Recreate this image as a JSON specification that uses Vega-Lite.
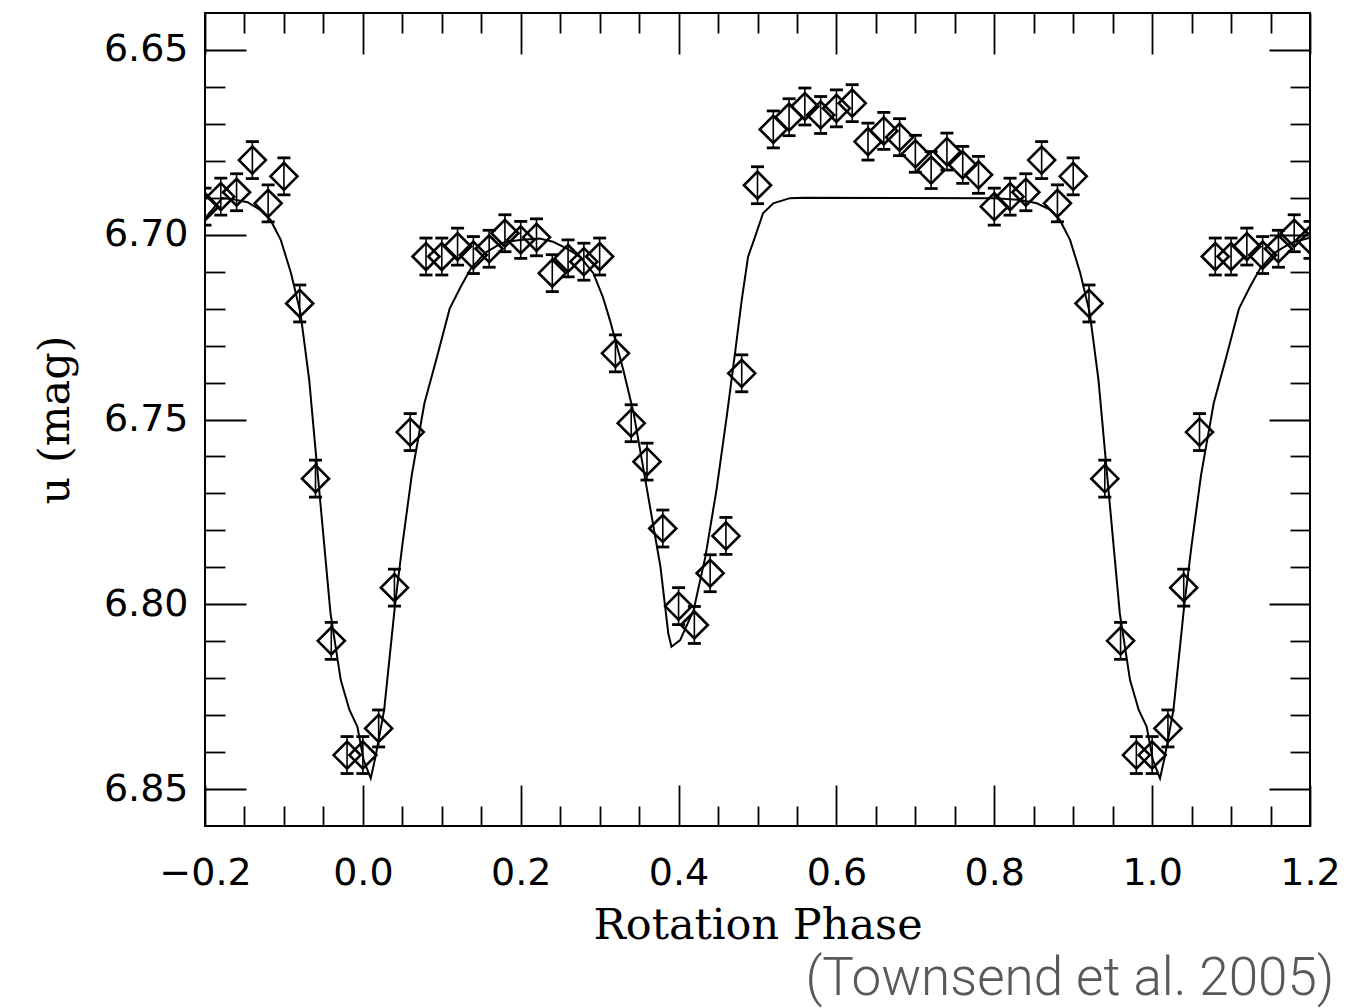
{
  "$schema": "https://vega.github.io/schema/vega-lite/v6.json",
  "width": 1105,
  "height": 813,
  "autosize": {"type": "none"},
  "padding": {"left": 205, "top": 13, "right": 57, "bottom": 182},
  "background": "white",
  "config": {
    "view": {"stroke": "black", "strokeWidth": 2},
    "axis": {
      "grid": false,
      "domain": false,
      "tickColor": "black",
      "tickWidth": 1.8,
      "labelColor": "black",
      "labelFont": "DejaVu Sans",
      "labelFontSize": 38,
      "labelFlush": false,
      "titleFont": "DejaVu Serif",
      "titleFontSize": 43,
      "titleFontWeight": "normal",
      "titleColor": "black"
    }
  },
  "title": {
    "text": "(Townsend et al. 2005)",
    "orient": "bottom",
    "anchor": "end",
    "font": "Roboto",
    "fontWeight": 300,
    "fontSize": 53,
    "color": "#595959",
    "offset": 6,
    "dx": -6
  },
  "datasets": {
    "obs": [
      {"phase": -0.20, "mag": 6.6924, "err": 0.005},
      {"phase": -0.18, "mag": 6.6897, "err": 0.005},
      {"phase": -0.16, "mag": 6.6885, "err": 0.005},
      {"phase": -0.14, "mag": 6.6798, "err": 0.005},
      {"phase": -0.12, "mag": 6.6915, "err": 0.005},
      {"phase": -0.10, "mag": 6.6842, "err": 0.005},
      {"phase": -0.08, "mag": 6.7186, "err": 0.005},
      {"phase": -0.06, "mag": 6.7660, "err": 0.005},
      {"phase": -0.04, "mag": 6.8099, "err": 0.005},
      {"phase": -0.02, "mag": 6.8408, "err": 0.005},
      {"phase": 0.00, "mag": 6.8408, "err": 0.005},
      {"phase": 0.02, "mag": 6.8336, "err": 0.005},
      {"phase": 0.04, "mag": 6.7955, "err": 0.005},
      {"phase": 0.06, "mag": 6.7534, "err": 0.005},
      {"phase": 0.08, "mag": 6.7059, "err": 0.005},
      {"phase": 0.10, "mag": 6.7059, "err": 0.005},
      {"phase": 0.12, "mag": 6.7032, "err": 0.005},
      {"phase": 0.14, "mag": 6.7055, "err": 0.005},
      {"phase": 0.16, "mag": 6.7038, "err": 0.005},
      {"phase": 0.18, "mag": 6.6996, "err": 0.005},
      {"phase": 0.20, "mag": 6.7014, "err": 0.005},
      {"phase": 0.22, "mag": 6.7007, "err": 0.005},
      {"phase": 0.24, "mag": 6.7104, "err": 0.005},
      {"phase": 0.26, "mag": 6.7064, "err": 0.005},
      {"phase": 0.28, "mag": 6.7073, "err": 0.005},
      {"phase": 0.30, "mag": 6.7059, "err": 0.005},
      {"phase": 0.32, "mag": 6.7321, "err": 0.005},
      {"phase": 0.34, "mag": 6.7510, "err": 0.005},
      {"phase": 0.36, "mag": 6.7614, "err": 0.005},
      {"phase": 0.38, "mag": 6.7795, "err": 0.005},
      {"phase": 0.40, "mag": 6.8005, "err": 0.005},
      {"phase": 0.42, "mag": 6.8056, "err": 0.005},
      {"phase": 0.44, "mag": 6.7916, "err": 0.005},
      {"phase": 0.46, "mag": 6.7815, "err": 0.005},
      {"phase": 0.48, "mag": 6.7375, "err": 0.005},
      {"phase": 0.50, "mag": 6.6866, "err": 0.005},
      {"phase": 0.52, "mag": 6.6715, "err": 0.005},
      {"phase": 0.54, "mag": 6.6682, "err": 0.005},
      {"phase": 0.56, "mag": 6.6653, "err": 0.005},
      {"phase": 0.58, "mag": 6.6676, "err": 0.005},
      {"phase": 0.60, "mag": 6.6658, "err": 0.005},
      {"phase": 0.62, "mag": 6.6644, "err": 0.005},
      {"phase": 0.64, "mag": 6.6748, "err": 0.005},
      {"phase": 0.66, "mag": 6.6719, "err": 0.005},
      {"phase": 0.68, "mag": 6.6736, "err": 0.005},
      {"phase": 0.70, "mag": 6.6781, "err": 0.005},
      {"phase": 0.72, "mag": 6.6825, "err": 0.005},
      {"phase": 0.74, "mag": 6.6775, "err": 0.005},
      {"phase": 0.76, "mag": 6.6811, "err": 0.005},
      {"phase": 0.78, "mag": 6.6838, "err": 0.005},
      {"phase": 0.80, "mag": 6.6924, "err": 0.005},
      {"phase": 0.82, "mag": 6.6897, "err": 0.005},
      {"phase": 0.84, "mag": 6.6885, "err": 0.005},
      {"phase": 0.86, "mag": 6.6798, "err": 0.005},
      {"phase": 0.88, "mag": 6.6915, "err": 0.005},
      {"phase": 0.90, "mag": 6.6842, "err": 0.005},
      {"phase": 0.92, "mag": 6.7186, "err": 0.005},
      {"phase": 0.94, "mag": 6.7660, "err": 0.005},
      {"phase": 0.96, "mag": 6.8099, "err": 0.005},
      {"phase": 0.98, "mag": 6.8408, "err": 0.005},
      {"phase": 1.00, "mag": 6.8408, "err": 0.005},
      {"phase": 1.02, "mag": 6.8336, "err": 0.005},
      {"phase": 1.04, "mag": 6.7955, "err": 0.005},
      {"phase": 1.06, "mag": 6.7534, "err": 0.005},
      {"phase": 1.08, "mag": 6.7059, "err": 0.005},
      {"phase": 1.10, "mag": 6.7059, "err": 0.005},
      {"phase": 1.12, "mag": 6.7032, "err": 0.005},
      {"phase": 1.14, "mag": 6.7055, "err": 0.005},
      {"phase": 1.16, "mag": 6.7038, "err": 0.005},
      {"phase": 1.18, "mag": 6.6996, "err": 0.005},
      {"phase": 1.20, "mag": 6.7014, "err": 0.005}
    ],
    "model": [
      {"phase": -0.2, "mag": 6.6955},
      {"phase": -0.178, "mag": 6.6901},
      {"phase": -0.167, "mag": 6.6903},
      {"phase": -0.146, "mag": 6.6912},
      {"phase": -0.13, "mag": 6.6933},
      {"phase": -0.117, "mag": 6.696},
      {"phase": -0.104, "mag": 6.7014},
      {"phase": -0.091, "mag": 6.7104},
      {"phase": -0.079, "mag": 6.7212},
      {"phase": -0.068, "mag": 6.7393},
      {"phase": -0.058, "mag": 6.7628},
      {"phase": -0.041, "mag": 6.8024},
      {"phase": -0.028, "mag": 6.8205},
      {"phase": -0.017, "mag": 6.8286},
      {"phase": -0.007, "mag": 6.8331},
      {"phase": 0.001, "mag": 6.8422},
      {"phase": 0.010, "mag": 6.8471},
      {"phase": 0.016, "mag": 6.8413},
      {"phase": 0.027, "mag": 6.8286},
      {"phase": 0.041, "mag": 6.7997},
      {"phase": 0.050, "mag": 6.784},
      {"phase": 0.062, "mag": 6.765},
      {"phase": 0.078, "mag": 6.7456},
      {"phase": 0.094, "mag": 6.733},
      {"phase": 0.110, "mag": 6.72},
      {"phase": 0.124, "mag": 6.7141},
      {"phase": 0.137, "mag": 6.7091},
      {"phase": 0.155, "mag": 6.7049},
      {"phase": 0.176, "mag": 6.7022},
      {"phase": 0.199, "mag": 6.7014},
      {"phase": 0.224, "mag": 6.701},
      {"phase": 0.241, "mag": 6.7019},
      {"phase": 0.258, "mag": 6.7037},
      {"phase": 0.275, "mag": 6.7059},
      {"phase": 0.292, "mag": 6.7104},
      {"phase": 0.304, "mag": 6.7168},
      {"phase": 0.313, "mag": 6.7231},
      {"phase": 0.330, "mag": 6.7366},
      {"phase": 0.343, "mag": 6.7482},
      {"phase": 0.355, "mag": 6.7628},
      {"phase": 0.366, "mag": 6.7763},
      {"phase": 0.377, "mag": 6.7898},
      {"phase": 0.387, "mag": 6.8079},
      {"phase": 0.391, "mag": 6.8115},
      {"phase": 0.402, "mag": 6.8097},
      {"phase": 0.419, "mag": 6.8016},
      {"phase": 0.434, "mag": 6.7871},
      {"phase": 0.448, "mag": 6.7691},
      {"phase": 0.461, "mag": 6.7492},
      {"phase": 0.472, "mag": 6.7312},
      {"phase": 0.480, "mag": 6.7177},
      {"phase": 0.488, "mag": 6.706},
      {"phase": 0.497, "mag": 6.7005},
      {"phase": 0.507, "mag": 6.6942},
      {"phase": 0.520, "mag": 6.6915},
      {"phase": 0.541, "mag": 6.6901},
      {"phase": 0.558, "mag": 6.69},
      {"phase": 0.800, "mag": 6.6901},
      {"phase": 0.833, "mag": 6.6906},
      {"phase": 0.854, "mag": 6.6915},
      {"phase": 0.871, "mag": 6.6933},
      {"phase": 0.883, "mag": 6.696},
      {"phase": 0.896, "mag": 6.7014},
      {"phase": 0.909, "mag": 6.7104},
      {"phase": 0.921, "mag": 6.7212},
      {"phase": 0.932, "mag": 6.7393},
      {"phase": 0.942, "mag": 6.7628},
      {"phase": 0.959, "mag": 6.8024},
      {"phase": 0.972, "mag": 6.8205},
      {"phase": 0.983, "mag": 6.8286},
      {"phase": 0.993, "mag": 6.8331},
      {"phase": 1.001, "mag": 6.8422},
      {"phase": 1.010, "mag": 6.8471},
      {"phase": 1.016, "mag": 6.8413},
      {"phase": 1.027, "mag": 6.8286},
      {"phase": 1.041, "mag": 6.7997},
      {"phase": 1.050, "mag": 6.784},
      {"phase": 1.062, "mag": 6.765},
      {"phase": 1.078, "mag": 6.7456},
      {"phase": 1.094, "mag": 6.733},
      {"phase": 1.110, "mag": 6.72},
      {"phase": 1.124, "mag": 6.7141},
      {"phase": 1.137, "mag": 6.7091},
      {"phase": 1.155, "mag": 6.7049},
      {"phase": 1.176, "mag": 6.7022},
      {"phase": 1.2, "mag": 6.7008}
    ]
  },
  "layer": [
    {
      "data": {"name": "model"},
      "mark": {"type": "line", "color": "black", "strokeWidth": 2, "clip": true},
      "encoding": {
        "x": {
          "field": "phase", "type": "quantitative",
          "scale": {"domain": [-0.2, 1.2], "nice": false, "zero": false},
          "axis": {
            "orient": "bottom",
            "title": "Rotation Phase",
            "titlePadding": 12,
            "format": ".1f",
            "values": [-0.2, -0.15, -0.1, -0.05, 0, 0.05, 0.1, 0.15, 0.2, 0.25, 0.3, 0.35, 0.4, 0.45, 0.5, 0.55, 0.6, 0.65, 0.7, 0.75, 0.8, 0.85, 0.9, 0.95, 1, 1.05, 1.1, 1.15, 1.2],
            "tickSize": {"condition": {"test": "abs(datum.value*5 - round(datum.value*5)) < 0.001", "value": -41}, "value": -20},
            "labelExpr": "abs(datum.value*5 - round(datum.value*5)) < 0.001 ? datum.label : ''",
            "labelPadding": 69
          }
        },
        "y": {
          "field": "mag", "type": "quantitative",
          "scale": {"domain": [6.64, 6.86], "reverse": true, "nice": false, "zero": false},
          "axis": {
            "orient": "left",
            "title": "u (mag)",
            "titlePadding": 26,
            "format": ".2f",
            "values": [6.65, 6.66, 6.67, 6.68, 6.69, 6.7, 6.71, 6.72, 6.73, 6.74, 6.75, 6.76, 6.77, 6.78, 6.79, 6.8, 6.81, 6.82, 6.83, 6.84, 6.85],
            "tickSize": {"condition": {"test": "abs(datum.value*20 - round(datum.value*20)) < 0.001", "value": -41}, "value": -20},
            "labelExpr": "abs(datum.value*20 - round(datum.value*20)) < 0.001 ? datum.label : ''",
            "labelPadding": 58
          }
        }
      }
    },
    {
      "data": {"name": "obs"},
      "mark": {"type": "errorbar", "clip": true, "ticks": {"size": 13, "thickness": 2.8, "color": "black", "opacity": 1}, "rule": {"strokeWidth": 1.6, "color": "black", "opacity": 1}},
      "encoding": {
        "x": {"field": "phase", "type": "quantitative", "axis": null},
        "y": {"field": "mag", "type": "quantitative", "axis": null},
        "yError": {"field": "err"}
      }
    },
    {
      "data": {"name": "obs"},
      "mark": {"type": "point", "shape": "diamond", "size": 730, "filled": false, "stroke": "black", "strokeWidth": 2.6, "opacity": 1, "clip": true},
      "encoding": {
        "x": {
          "field": "phase", "type": "quantitative",
          "axis": {
            "orient": "top",
            "title": null,
            "labels": false,
            "values": [-0.2, -0.15, -0.1, -0.05, 0, 0.05, 0.1, 0.15, 0.2, 0.25, 0.3, 0.35, 0.4, 0.45, 0.5, 0.55, 0.6, 0.65, 0.7, 0.75, 0.8, 0.85, 0.9, 0.95, 1, 1.05, 1.1, 1.15, 1.2],
            "tickSize": {"condition": {"test": "abs(datum.value*5 - round(datum.value*5)) < 0.001", "value": -41}, "value": -20}
          }
        },
        "y": {
          "field": "mag", "type": "quantitative",
          "axis": {
            "orient": "right",
            "title": null,
            "labels": false,
            "values": [6.65, 6.66, 6.67, 6.68, 6.69, 6.7, 6.71, 6.72, 6.73, 6.74, 6.75, 6.76, 6.77, 6.78, 6.79, 6.8, 6.81, 6.82, 6.83, 6.84, 6.85],
            "tickSize": {"condition": {"test": "abs(datum.value*20 - round(datum.value*20)) < 0.001", "value": -41}, "value": -20}
          }
        }
      }
    }
  ],
  "resolve": {"axis": {"x": "independent", "y": "independent"}}
}
